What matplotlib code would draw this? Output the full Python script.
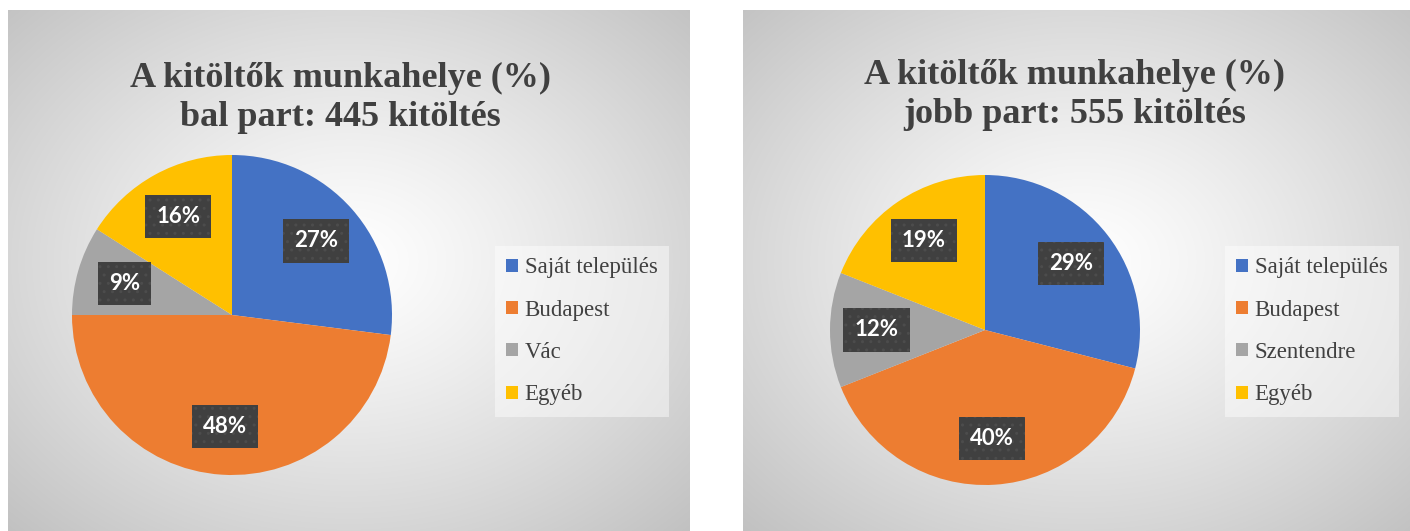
import numpy as np
import matplotlib
matplotlib.use("Agg")
import matplotlib.pyplot as plt

W, H = 1410, 531
DPI = 100

# ---- data ----
left_categories = ["Saját település", "Budapest", "Vác", "Egyéb"]
left_values = [27, 48, 9, 16]
left_title = "A kitöltők munkahelye (%)\nbal part: 445 kitöltés"

right_categories = ["Saját település", "Budapest", "Szentendre", "Egyéb"]
right_values = [29, 40, 12, 19]
right_title = "A kitöltők munkahelye (%)\njobb part: 555 kitöltés"

colors = ["#4472C4", "#ED7D31", "#A5A5A5", "#FFC000"]

fig = plt.figure(figsize=(W / DPI, H / DPI), dpi=DPI)
fig.patch.set_facecolor("white")


def fig_rect(x0, y0, x1, y1):
    """pixel box (top-down) -> figure fraction rect"""
    return [x0 / W, 1 - y1 / H, (x1 - x0) / W, (y1 - y0) / H]


def panel(x0, y0, x1, y1):
    ax = fig.add_axes(fig_rect(x0, y0, x1, y1))
    w, h = int(x1 - x0), int(y1 - y0)
    xx, yy = np.meshgrid(np.linspace(-1, 1, w), np.linspace(-1, 1, h))
    cx, cy = 0.0, -0.05
    d = np.sqrt((xx - cx) ** 2 + (yy - cy) ** 2) / np.sqrt(2)
    d = np.clip(d, 0, 1)
    v = 1.0 - 0.24 * d ** 1.2
    img = np.dstack([v, v, v])
    ax.imshow(img, aspect="auto", extent=[0, 1, 0, 1], interpolation="bilinear")
    ax.set_xlim(0, 1)
    ax.set_ylim(0, 1)
    ax.axis("off")
    ax.set_zorder(0)
    return ax


def draw_pie(values, cats, title, panel_box, center, r, title_cx, title_y, legend_box):
    panel(*panel_box)
    cx, cy = center
    ax = fig.add_axes(fig_rect(cx - r, cy - r, cx + r, cy + r))
    ax.set_zorder(2)
    wedges, texts, autotexts = ax.pie(
        values, colors=colors, startangle=90, counterclock=False,
        autopct="%1.0f%%", pctdistance=0.7, radius=1.0,
        wedgeprops=dict(linewidth=0),
        textprops=dict(color="white", fontsize=16, fontweight="bold", family="Lato"),
    )
    for t in autotexts:
        t.set_bbox(dict(boxstyle="square,pad=0.5", facecolor="#404040",
                        edgecolor="#4c4c4c", linewidth=0, hatch=".."))
    ax.set_xlim(-1, 1)
    ax.set_ylim(-1, 1)
    ax.axis("off")

    fig.text(title_cx / W, 1 - title_y / H, title, ha="center", va="top",
             fontsize=26, fontweight="bold", family="Liberation Serif",
             color="#404040", linespacing=1.22, zorder=3)

    lx0, ly0, lx1, ly1 = legend_box
    leg = fig.legend(wedges, cats, loc="upper left",
                     bbox_to_anchor=(lx0 / W, 1 - ly0 / H),
                     bbox_transform=fig.transFigure,
                     prop=dict(family="Liberation Serif", size=16.5),
                     labelcolor="#404040", frameon=True, fancybox=False,
                     handlelength=0.5, handleheight=0.5, handletextpad=0.3,
                     labelspacing=0.93, borderpad=0.5, borderaxespad=0)
    fr = leg.get_frame()
    fr.set_facecolor("white")
    fr.set_alpha(0.45)
    fr.set_linewidth(0)
    leg.set_zorder(3)


draw_pie(left_values, left_categories, left_title,
         (8, 10, 690, 540), (232, 315), 160, 340, 62, (495, 246, 673, 413))
draw_pie(right_values, right_categories, right_title,
         (743, 10, 1420, 540), (985, 330), 155, 1075, 59, (1225, 246, 1403, 413))

fig.savefig("out.png", dpi=DPI)
